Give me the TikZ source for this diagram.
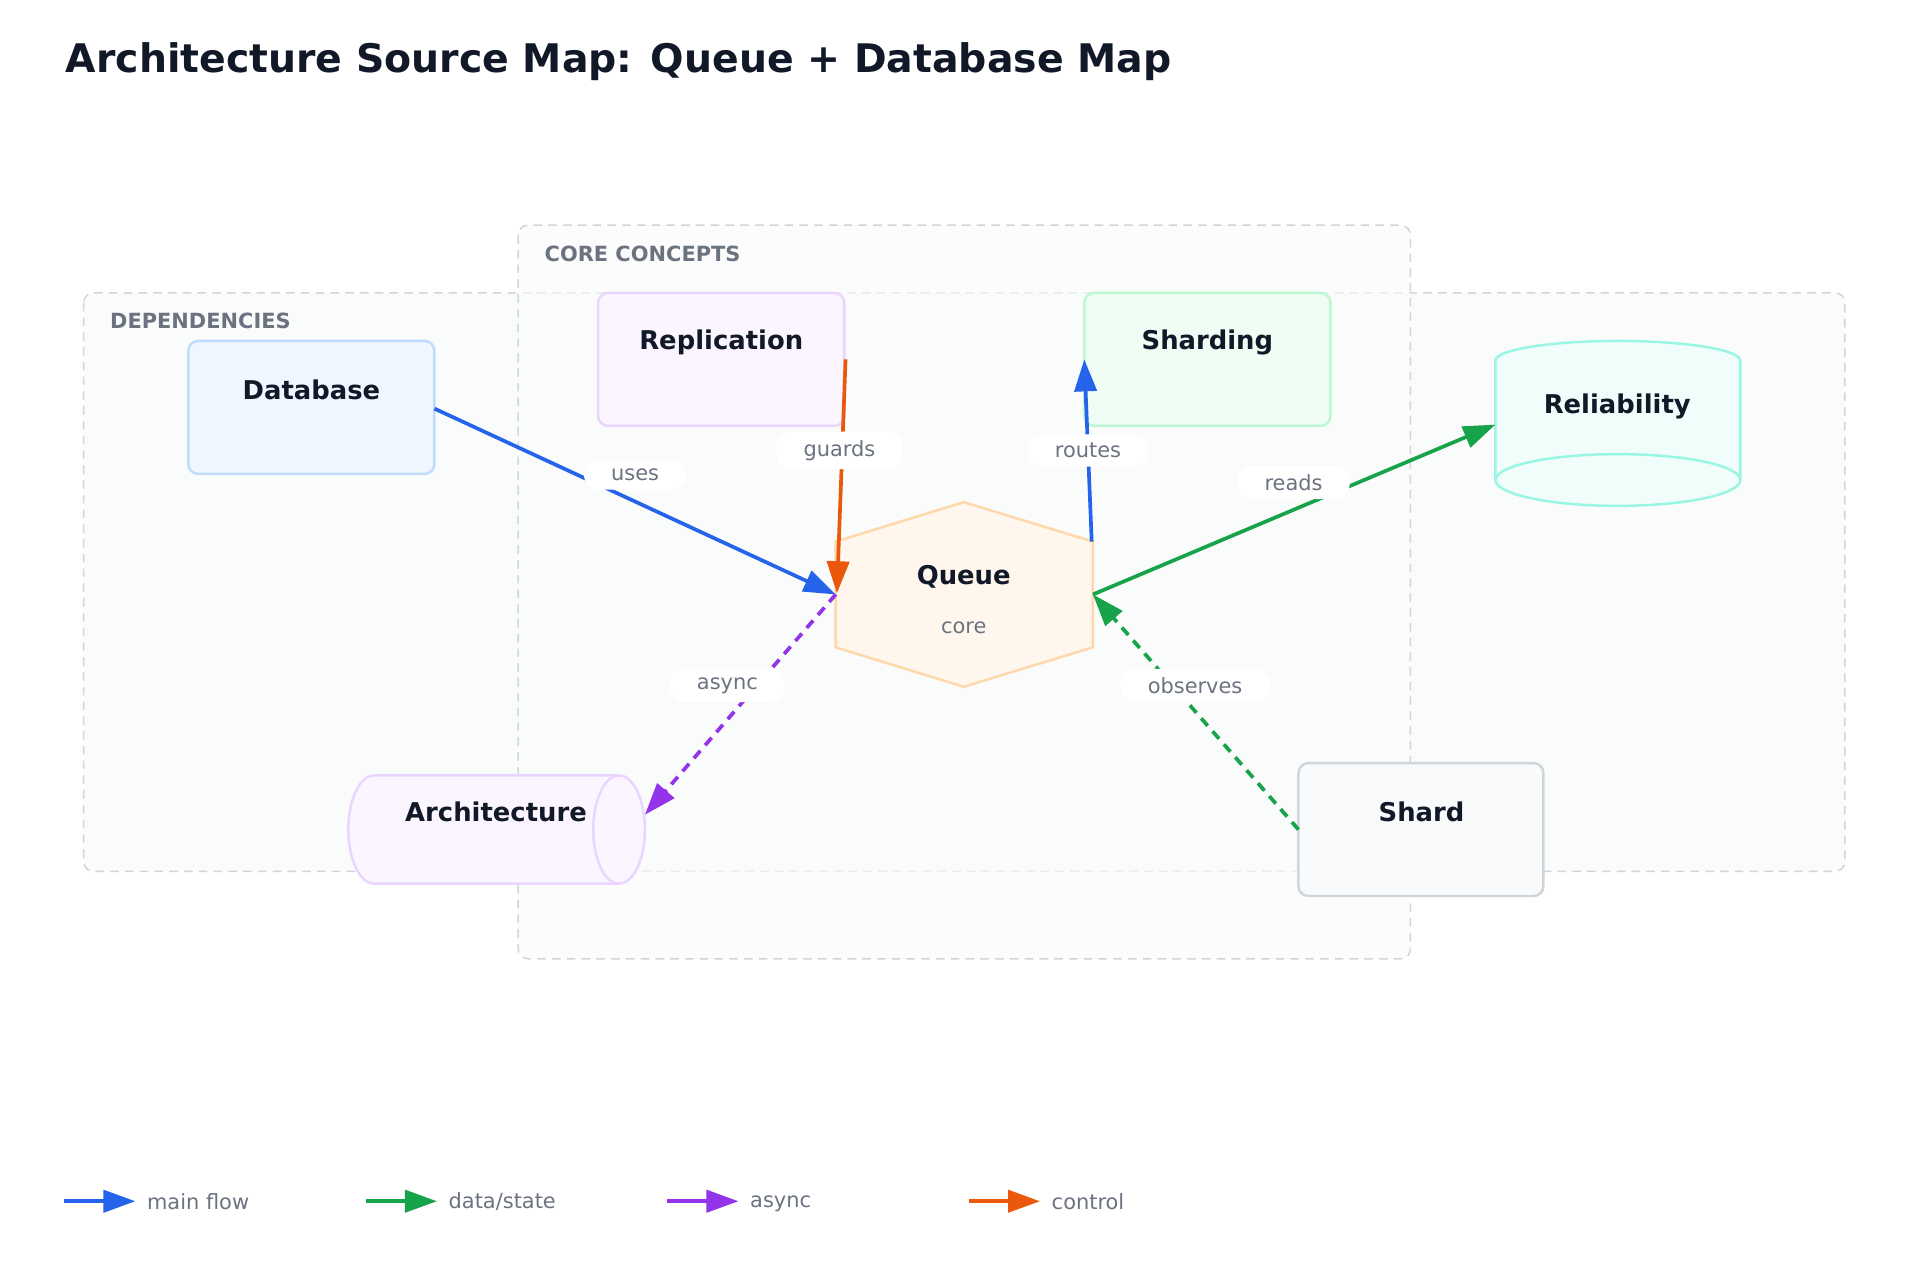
\documentclass[tikz,border=0pt]{standalone}
\usepackage{fontspec}
\setmainfont{DejaVu Sans}
\usetikzlibrary{arrows.meta,shapes.geometric}
\definecolor{cblue}{HTML}{2563EB}
\definecolor{cgreen}{HTML}{16A34A}
\definecolor{cpurple}{HTML}{9333EA}
\definecolor{corange}{HTML}{EA580C}
\definecolor{cdark}{HTML}{111827}
\definecolor{cgray}{HTML}{6B7280}
\definecolor{cgroup}{HTML}{D1D5DB}
\definecolor{gfill}{HTML}{FAFBFB}
\definecolor{bstroke}{HTML}{BFDBFE}
\definecolor{bfill}{HTML}{EFF6FF}
\definecolor{pstroke}{HTML}{E9D5FF}
\definecolor{pfill}{HTML}{FAF5FF}
\definecolor{gstroke}{HTML}{BBF7D0}
\definecolor{gnfill}{HTML}{F0FDF4}
\definecolor{sstroke}{HTML}{D1D5DB}
\definecolor{sfill}{HTML}{F8FAFC}
\definecolor{tstroke}{HTML}{99F6E4}
\definecolor{tfill}{HTML}{F0FDFA}
\definecolor{ostroke}{HTML}{FED7AA}
\definecolor{ofill}{HTML}{FFF7ED}
\tikzset{
  grp/.style={draw=cgroup,line width=1.2pt,fill=gfill,rounded corners=8pt,dash pattern=on 7pt off 5pt},
  grplabel/.style={anchor=west,text=cgray,font=\fontsize{17}{19}\selectfont\bfseries},
  box/.style={line width=2pt,rounded corners=8pt},
  ttl/.style={text=cdark,font=\fontsize{21}{25}\selectfont\bfseries},
  elab/.style={fill=white,rounded corners=12pt,text=cgray,font=\fontsize{17}{19}\selectfont,inner xsep=22pt,inner ysep=7pt},
  tip/.style={-{Triangle[length=26pt,width=18pt]}},
  edge/.style={line width=3pt,tip},
}
\begin{document}
\begin{tikzpicture}[x=1pt,y=-1pt]
\useasboundingbox[fill=white] (0,0) rectangle (1560,1040);
\node[anchor=west,text=cdark,font=\fontsize{32}{36}\selectfont\bfseries] (title) at (50,50) {Architecture Source Map: Queue + Database Map};
% groups
\draw[grp] (68,238) rectangle (1499,708);
\draw[grp,fill opacity=0.6] (421,183) rectangle (1146,779);
\node[grplabel] (gdep) at (86,261) {DEPENDENCIES};
\node[grplabel] (gcore) at (439,206) {CORE CONCEPTS};
% nodes
\draw[box,draw=bstroke,fill=bfill] (153,277) rectangle (353,385);
\node[ttl] (database) at (253,317) {Database};
\draw[box,draw=pstroke,fill=pfill] (486,238) rectangle (686,346);
\node[ttl] (replication) at (586,278) {Replication};
\draw[box,draw=gstroke,fill=gnfill] (881,238) rectangle (1081,346);
\node[ttl] (sharding) at (981,278) {Sharding};
\draw[box,draw=sstroke,fill=sfill] (1055,620) rectangle (1254,728);
\node[ttl] (shard) at (1155,660) {Shard};
% reliability cylinder
\draw[line width=2pt,draw=tstroke,fill=tfill] (1215,293) -- (1215,390) arc[start angle=180,end angle=0,x radius=99.5,y radius=21] -- (1414,293) arc[start angle=0,end angle=-180,x radius=99.5,y radius=16] -- cycle;
\draw[line width=2pt,draw=tstroke] (1215,390) arc[start angle=180,end angle=360,x radius=99.5,y radius=21];
\node[ttl] (reliability) at (1314,330) {Reliability};
% architecture cylinder
\draw[line width=2pt,draw=pstroke,fill=pfill] (503,630) -- (304,630) arc[start angle=-90,end angle=-270,x radius=21,y radius=44] -- (503,718) arc[start angle=90,end angle=-90,x radius=21,y radius=44];
\draw[line width=2pt,draw=pstroke] (503,630) arc[start angle=-90,end angle=-270,x radius=21,y radius=44];
\node[ttl] (architecture) at (403,660) {Architecture};
% queue
\draw[line width=2pt,draw=ostroke,fill=ofill] (783,408) -- (888,440) -- (888,526) -- (783,558) -- (679,526) -- (679,440) -- cycle;
\node[ttl] (queue) at (783,469) {Queue};
\node[text=cgray,font=\fontsize{17}{19}\selectfont] (qsub) at (783,510) {core};
% anchor coordinates
\coordinate (dbR) at (353,332);
\coordinate (qL) at (679,483);
\coordinate (qR) at (888,483);
\coordinate (qTL) at (680,482);
\coordinate (qTR) at (887,440);
\coordinate (repB) at (687,292);
\coordinate (shaL) at (881,292);
\coordinate (relL) at (1215,345);
\coordinate (arcR) at (524,662);
\coordinate (shdL) at (1055,674);
% edges
\draw[edge,cblue] (dbR) -- (qL);
\draw[edge,corange] (repB) -- (qTL);
\draw[edge,cblue] (qTR) -- (shaL);
\draw[edge,cgreen] (qR) -- (relL);
\draw[edge,cpurple,dash pattern=on 8pt off 6pt] (qL) -- (arcR);
\draw[edge,cgreen,dash pattern=on 8pt off 6pt] (shdL) -- (qR);
% labels
\node[elab] (l1) at (516,386) {uses};
\node[elab] (l2) at (682,366) {guards};
\node[elab] (l3) at (884,366) {routes};
\node[elab] (l4) at (1051,392) {reads};
\node[elab] (l5) at (591,557) {async};
\node[elab] (l6) at (971,557) {observes};
% legend
\foreach \x/\c/\t/\n in {52/cblue/main flow/a,297/cgreen/data\slash state/b,542/cpurple/async/c,787/corange/control/d}{
  \coordinate (ls\n) at (\x,976);
  \coordinate (le\n) at (\x+58,976);
  \draw[edge,\c] (ls\n) -- (le\n);
  \node[anchor=west,text=cgray,font=\fontsize{17}{19}\selectfont] (lt\n) at (\x+64,976) {\vphantom{fl}\t};
}
\end{tikzpicture}
\end{document}
